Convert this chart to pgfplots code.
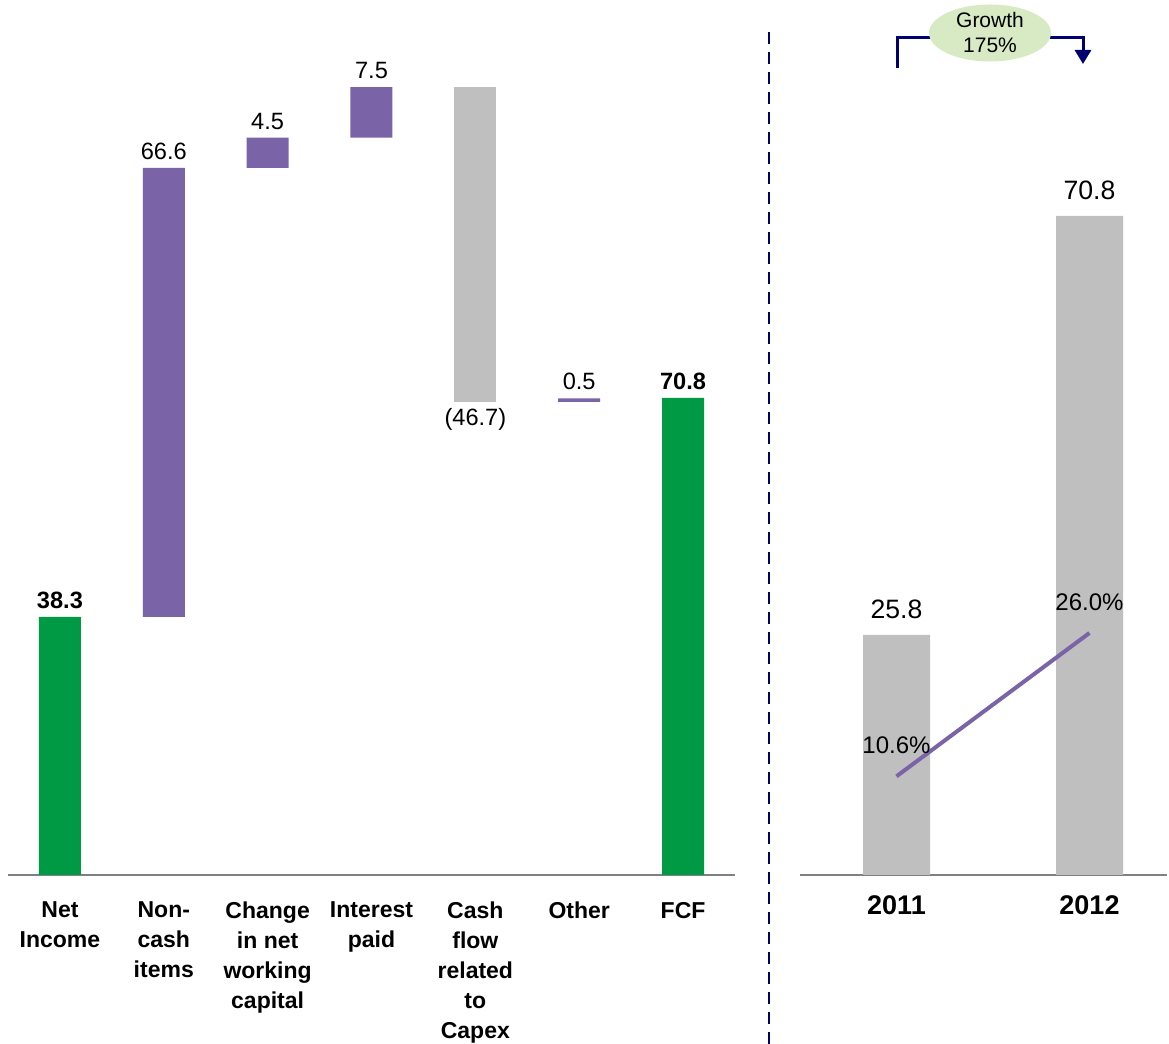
\documentclass[border=0pt]{standalone}
\usepackage{fontspec}
\setmainfont{Liberation Sans}
\usepackage{pgfplots}
\pgfplotsset{compat=1.18}
\usetikzlibrary{arrows.meta}
\definecolor{cgreen}{RGB}{0,154,68}
\definecolor{cpurple}{RGB}{123,99,168}
\definecolor{cgrey}{RGB}{191,191,191}
\definecolor{cnavy}{RGB}{0,0,110}
\definecolor{cellipse}{RGB}{215,234,196}
\tikzset{vlab/.style={font=\fontsize{11.8}{13}\selectfont, inner sep=4pt}}
\begin{document}
\begin{tikzpicture}
\useasboundingbox (0,0) rectangle (584.5pt,522pt);
\begin{axis}[
  at={(4pt,84.5pt)}, anchor=south west, scale only axis,
  width=363.5pt, height=421.25pt,
  xmin=-0.5, xmax=6.5, ymin=0, ymax=125,
  ybar stacked, bar width=21pt,
  axis x line*=bottom, axis y line=none,
  x axis line style={-, draw=gray, line width=0.8pt},
  xtick={0,...,6}, major tick length=0,
  xticklabels={{Net\\Income},{Non-\\cash\\items},{Change\\in net\\working\\capital},{Interest\\paid},{Cash\\flow\\related\\to\\Capex},{Other},{FCF}},
  xticklabel style={font=\fontsize{11.5}{15}\selectfont\bfseries, align=center, yshift=-10pt},
  clip=false,
]
\addplot[draw=none, fill=white, fill opacity=0] coordinates {(0,0) (1,38.3) (2,104.9) (3,109.4) (4,70.2) (5,70.2) (6,0)};
\addplot[fill=cgreen, draw=none] coordinates {(0,38.3) (1,0) (2,0) (3,0) (4,0) (5,0) (6,70.8)};
\addplot[fill=cpurple, draw=none] coordinates {(0,0) (1,66.6) (2,4.5) (3,7.5) (4,0) (5,0.5) (6,0)};
\addplot[fill=cgrey, draw=none] coordinates {(0,0) (1,0) (2,0) (3,0) (4,46.7) (5,0) (6,0)};
\node[vlab, above] at (axis cs:0,38.3) {\bfseries 38.3};
\node[vlab, above] at (axis cs:1,104.9) {66.6};
\node[vlab, above] at (axis cs:2,109.4) {4.5};
\node[vlab, above] at (axis cs:3,116.9) {7.5};
\node[vlab, below, inner sep=3pt] at (axis cs:4,70.2) {(46.7)};
\node[vlab, above] at (axis cs:5,70.7) {0.5};
\node[vlab, above] at (axis cs:6,70.8) {\bfseries 70.8};
\end{axis}
\begin{axis}[
  at={(400pt,84.5pt)}, anchor=south west, scale only axis,
  width=183.35pt, height=372.4pt,
  xmin=-0.5, xmax=1.4, ymin=0, ymax=80,
  axis x line*=bottom, axis y line=none,
  x axis line style={-, draw=gray, line width=0.8pt},
  xtick={0,1}, major tick length=0,
  xticklabels={2011,2012},
  xticklabel style={font=\fontsize{13.5}{15}\selectfont\bfseries, yshift=-7pt},
  clip=false,
]
\addplot[ybar, bar width=33.5pt, fill=cgrey, draw=none] coordinates {(0,25.8) (1,70.8)};
\addplot[cpurple, line width=2pt] coordinates {(0,10.6) (1,26.0)};
\node[above, font=\fontsize{13.3}{15}\selectfont, inner sep=8pt] at (axis cs:0,25.8) {25.8};
\node[above, font=\fontsize{13.3}{15}\selectfont, inner sep=8pt] at (axis cs:1,70.8) {70.8};
\node[above, font=\fontsize{12}{13}\selectfont, inner sep=11pt] at (axis cs:0,10.6) {10.6\%};
\node[above, font=\fontsize{12}{13}\selectfont, inner sep=11pt] at (axis cs:1,26.0) {26.0\%};
\end{axis}
\draw[cnavy, line width=1.4pt, dash pattern=on 6pt off 4pt] (384.5pt,0) -- (384.5pt,506pt);
\draw[cnavy, line width=1.5pt, -{Triangle[width=8pt,length=7pt]}] (448.5pt,488pt) -- (448.5pt,503pt) -- (541.5pt,503pt) -- (541.5pt,490pt);
\fill[cellipse] (495pt,505.5pt) ellipse [x radius=30.5pt, y radius=14.25pt];
\node[align=center, font=\fontsize{10.5}{12.5}\selectfont] at (495pt,505.5pt) {Growth\\175\%};
\end{tikzpicture}
\end{document}
